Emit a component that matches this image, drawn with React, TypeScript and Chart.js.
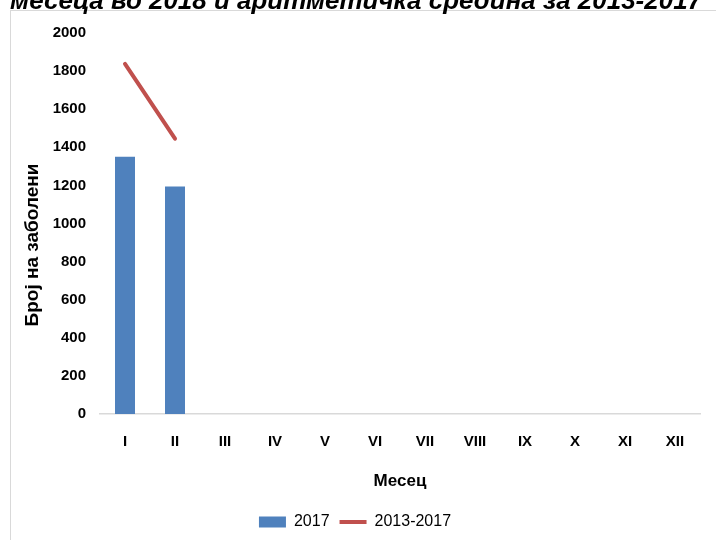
import React, { useEffect, useRef } from "react";
import { Chart, registerables } from "chart.js";

Chart.register(...registerables);

const months = ["I", "II", "III", "IV", "V", "VI", "VII", "VIII", "IX", "X", "XI", "XII"];
const cases2017 = [1351, 1194, null, null, null, null, null, null, null, null, null, null];
const mean2013_2017 = [1838, 1445, null, null, null, null, null, null, null, null, null, null];
const yTicks = { min: 0, max: 2000, step: 200 };
const titleText = "месеца во 2018 и аритметичка средина за 2013-2017";
const yAxisTitle = "Број на заболени";

const FONT = '"Liberation Sans", sans-serif';

const framePlugin = {
  id: "frame",
  beforeDraw(chart: any) {
    const ctx = chart.ctx;
    ctx.save();
    ctx.fillStyle = "#ffffff";
    ctx.fillRect(0, 0, chart.width, chart.height);
    ctx.strokeStyle = "#d9d9d9";
    ctx.lineWidth = 1;
    ctx.strokeRect(10.5, 10.5, chart.width + 10, chart.height + 10);
    ctx.fillStyle = "#000";
    ctx.font = `italic bold 26px ${FONT}`;
    ctx.textAlign = "center";
    ctx.textBaseline = "alphabetic";
    ctx.fillText(titleText, 356, 9, 692);
    // y axis title
    ctx.translate(33, 245);
    ctx.rotate(-Math.PI / 2);
    ctx.font = `bold 19px ${FONT}`;
    ctx.textBaseline = "middle";
    ctx.fillText(yAxisTitle, 0, 0, 172);
    ctx.restore();
  },
};

export default function App() {
  const ref = useRef<HTMLCanvasElement | null>(null);
  useEffect(() => {
    if (!ref.current) return;
    const chart = new Chart(ref.current, {
      type: "bar",
      data: {
        labels: months,
        datasets: [
          {
            type: "bar",
            label: "2017",
            data: cases2017,
            backgroundColor: "#4f81bd",
            borderWidth: 0,
            categoryPercentage: 0.8,
            barPercentage: 0.5,
            pointStyle: "rect",
          } as any,
          {
            type: "line",
            label: "2013-2017",
            data: mean2013_2017,
            borderColor: "#c0504d",
            backgroundColor: "#c0504d",
            borderWidth: 4,
            borderCapStyle: "round",
            pointRadius: 0,
            pointStyle: "line",
          } as any,
        ],
      },
      options: {
        responsive: false,
        animation: false,
        layout: { padding: { left: 10, right: 16, top: 33, bottom: 0 } },
        plugins: {
          tooltip: { enabled: false },
          legend: {
            position: "bottom",
            labels: {
              usePointStyle: true,
              pointStyleWidth: 27,
              boxHeight: 11,
              padding: 10,
              color: "#000",
              font: { family: FONT, size: 16 },
            },
          },
        },
        scales: {
          x: {
            grid: { display: false, drawTicks: false },
            border: { display: true, color: "#d9d9d9", width: 1.5 },
            ticks: { color: "#000", padding: 19, font: { family: FONT, size: 15, weight: "bold" } },
            title: {
              display: true,
              text: "Месец",
              color: "#000",
              font: { family: FONT, size: 17, weight: "bold" },
              padding: { top: 0, bottom: 12 },
            },
            afterFit(scale: any) {
              scale.height = 90;
            },
          },
          y: {
            min: yTicks.min,
            max: yTicks.max,
            grid: { display: false, drawTicks: false },
            border: { display: false },
            ticks: {
              stepSize: yTicks.step,
              color: "#000",
              padding: 14,
              font: { family: FONT, size: 15, weight: "bold" },
              callback: (v: any) => String(v),
            },
            title: { display: false },
            afterFit(scale: any) {
              scale.width = 90;
            },
          },
        },
      },
      plugins: [framePlugin],
    });
    return () => chart.destroy();
  }, []);
  return (
    <div style={{ position: "absolute", left: 0, top: 0, width: 716, height: 540 }}>
      <canvas ref={ref} width={716} height={540} />
    </div>
  );
}
